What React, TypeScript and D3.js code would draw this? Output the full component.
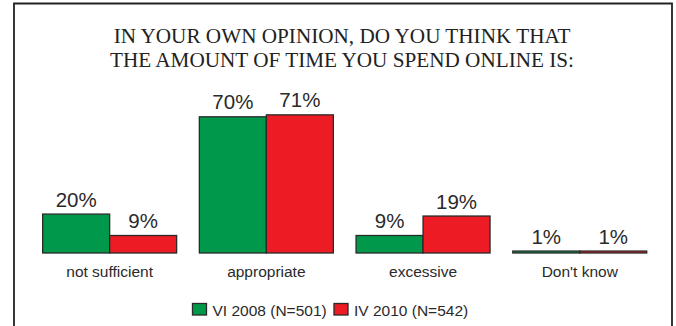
import React from "react";
import * as d3 from "d3";

const categories = ["not sufficient", "appropriate", "excessive", "Don't know"];
const seriesNames = ["VI 2008 (N=501)", "IV 2010 (N=542)"];
const values2008 = [20, 70, 9, 1];
const values2010 = [9, 71, 19, 1];
const colors = ["#00994c", "#ed1c24"];
const titleLines = [
  "IN YOUR OWN OPINION, DO YOU THINK THAT",
  "THE AMOUNT OF TIME YOU SPEND ONLINE IS:",
];

const W = 676;
const H = 326;
const SERIF = "'Liberation Serif', 'Times New Roman', serif";
const SANS = "'Liberation Sans', Arial, sans-serif";

export default function App() {
  const series = [values2008, values2010];
  const x0 = d3
    .scaleBand<string>()
    .domain(categories)
    .range([31.3, 658.1])
    .paddingInner(0.145)
    .paddingOuter(0.0725);
  const x1 = d3
    .scaleBand<number>()
    .domain([0, 1])
    .range([0, x0.bandwidth()])
    .padding(0);
  const baseY = 253;
  const y = d3.scaleLinear().domain([0, 70]).range([baseY, 116.8]);

  return (
    <svg
      width={W}
      height={H}
      style={{ position: "absolute", left: 0, top: 0, background: "#fff" }}
    >
      <rect x={0} y={0} width={W} height={H} fill="#fff" />
      <path
        d={`M14,${H + 5} V3.5 H672 V${H + 5}`}
        fill="none"
        stroke="#222"
        strokeWidth={1.8}
      />
      {titleLines.map((t, i) => (
        <text
          key={i}
          x={342}
          y={42.5 + i * 24}
          textAnchor="middle"
          style={{ fontFamily: SERIF, fontSize: "21.2px" }}
          fill="#222"
        >
          {t}
        </text>
      ))}
      {categories.map((c, ci) => (
        <g key={c} transform={`translate(${x0(c)},0)`}>
          {series.map((vals, si) => {
            const bx = x1(si)!;
            const bw = x1.bandwidth();
            const top = y(vals[ci]);
            return (
              <g key={si}>
                <rect
                  x={bx}
                  y={top}
                  width={bw}
                  height={baseY - top}
                  fill={colors[si]}
                  stroke="#2a2a2a"
                  strokeWidth={1.3}
                />
                <text
                  x={bx + bw / 2}
                  y={top - 7.5}
                  textAnchor="middle"
                  style={{ fontFamily: SANS, fontSize: "20.5px" }}
                  fill="#2a2a2a"
                >
                  {vals[ci]}%
                </text>
              </g>
            );
          })}
          <text
            x={x0.bandwidth() / 2}
            y={277}
            textAnchor="middle"
            style={{ fontFamily: SANS, fontSize: "15.5px" }}
            fill="#2a2a2a"
          >
            {c}
          </text>
        </g>
      ))}
      {seriesNames.map((s, i) => {
        const lx = [192.5, 334][i];
        return (
          <g key={s}>
            <rect
              x={lx}
              y={303.5}
              width={14}
              height={11.5}
              fill={colors[i]}
              stroke="#2a2a2a"
              strokeWidth={1.3}
            />
            <text
              x={lx + 20}
              y={316}
              style={{ fontFamily: SANS, fontSize: "15.5px" }}
              fill="#2a2a2a"
            >
              {s}
            </text>
          </g>
        );
      })}
    </svg>
  );
}
